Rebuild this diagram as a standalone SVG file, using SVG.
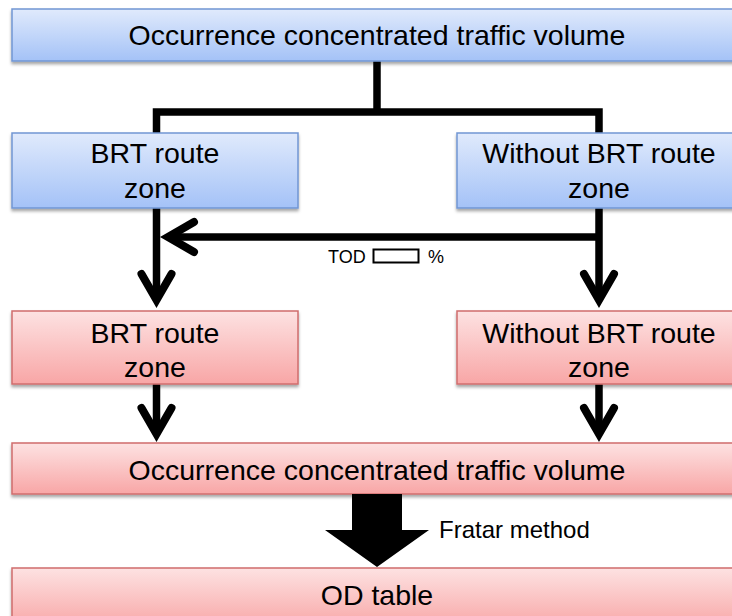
<svg xmlns="http://www.w3.org/2000/svg" width="732" height="616" viewBox="0 0 732 616">
  <style>
    .lbl { font-family: "Liberation Sans", Arial, sans-serif; font-size: 28.5px; fill: #000; text-anchor: middle; }
    .small { font-family: "Liberation Sans", Arial, sans-serif; fill: #000; }
    .blue { fill: url(#gBlue); stroke: #7196d4; stroke-width: 1.5; filter: url(#shadow); }
    .red { fill: url(#gRed); stroke: #d06c6c; stroke-width: 1.5; filter: url(#shadow); }
    .wire { fill: none; stroke: #000; stroke-width: 7.5; stroke-linejoin: miter; }
  </style>
  <defs>
    <linearGradient id="gBlue" x1="0" y1="0" x2="0" y2="1">
      <stop offset="0" stop-color="#e0eafc"/>
      <stop offset="1" stop-color="#a4c2f7"/>
    </linearGradient>
    <linearGradient id="gRed" x1="0" y1="0" x2="0" y2="1">
      <stop offset="0" stop-color="#fde2e2"/>
      <stop offset="1" stop-color="#f8a6a6"/>
    </linearGradient>
    <filter id="shadow" x="-5%" y="-20%" width="110%" height="150%">
      <feDropShadow dx="0" dy="2.5" stdDeviation="1.5" flood-color="#000" flood-opacity="0.35"/>
    </filter>
    <marker id="chev" markerUnits="userSpaceOnUse" viewBox="-40 -24 50 48" refX="0" refY="0" markerWidth="50" markerHeight="48" orient="auto" overflow="visible">
      <path d="M-26,-15 L0,0 L-26,15" fill="none" stroke="#000" stroke-width="8" stroke-linecap="round" stroke-linejoin="miter"/>
    </marker>
  </defs>

  <rect width="732" height="616" fill="#fff"/>

  <!-- connectors -->
  <g id="connectors">
    <path class="wire" d="M377 61 V112"/>
    <path class="wire" d="M156.5 133 V112 H599 V133"/>
    <path class="wire" d="M599 208 V300" marker-end="url(#chev)"/>
    <path class="wire" d="M156.5 208 V300" marker-end="url(#chev)"/>
    <path class="wire" d="M599 237 H168" marker-end="url(#chev)"/>
    <path class="wire" d="M156.5 384 V434" marker-end="url(#chev)"/>
    <path class="wire" d="M599 384 V434" marker-end="url(#chev)"/>
  </g>

  <!-- upper nodes -->
  <g id="occ-src">
    <rect class="blue" x="12" y="9" width="730" height="52"/>
    <text class="lbl" x="377" y="45">Occurrence concentrated traffic volume</text>
  </g>
  <g id="brt-src">
    <rect class="blue" x="12" y="133" width="286" height="75"/>
    <text class="lbl" x="155" y="163">BRT route</text>
    <text class="lbl" x="155" y="198">zone</text>
  </g>
  <g id="nonbrt-src">
    <rect class="blue" x="457" y="133" width="285" height="75"/>
    <text class="lbl" x="599" y="163">Without BRT route</text>
    <text class="lbl" x="599" y="198">zone</text>
  </g>

  <!-- TOD share label -->
  <g id="tod-label">
    <text class="small" x="328" y="263" font-size="18">TOD</text>
    <rect x="373.5" y="249.5" width="45" height="13" fill="#fff" stroke="#000" stroke-width="2"/>
    <text class="small" x="428" y="263" font-size="18">%</text>
  </g>

  <!-- lower nodes -->
  <g id="brt-dst">
    <rect class="red" x="12" y="311" width="286" height="73"/>
    <text class="lbl" x="155" y="343">BRT route</text>
    <text class="lbl" x="155" y="377">zone</text>
  </g>
  <g id="nonbrt-dst">
    <rect class="red" x="457" y="311" width="285" height="73"/>
    <text class="lbl" x="599" y="343">Without BRT route</text>
    <text class="lbl" x="599" y="377">zone</text>
  </g>
  <g id="occ-dst">
    <rect class="red" x="12" y="443" width="730" height="51"/>
    <text class="lbl" x="377" y="480">Occurrence concentrated traffic volume</text>
  </g>

  <!-- Fratar block arrow -->
  <g id="fratar">
    <polygon points="352,494 402,494 402,530 429,530 377,567 325,530 352,530" fill="#000"/>
    <text class="small" x="439" y="538" font-size="24">Fratar method</text>
  </g>

  <g id="od-table">
    <rect class="red" x="12" y="568" width="730" height="60"/>
    <text class="lbl" x="377" y="605">OD table</text>
  </g>
</svg>
